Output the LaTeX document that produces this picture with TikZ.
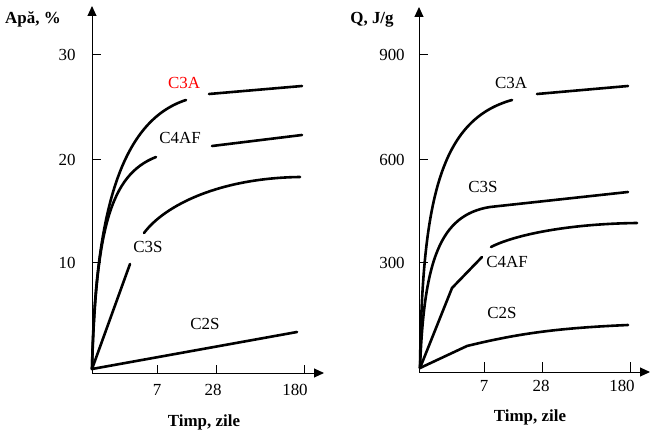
\documentclass[tikz,border=0pt]{standalone}
\usepackage{fontspec}
\setmainfont{Liberation Serif}
\usetikzlibrary{arrows.meta}

\begin{document}
\begin{tikzpicture}[x=1bp, y=-1bp,
  axis/.style={line width=1bp, -{Triangle[length=10bp,width=9bp]}},
  tk/.style={line width=1bp},
  curve/.style={line width=2.6bp, line cap=round},
  lbl/.style={font=\fontsize{17}{20}\selectfont, inner sep=0pt},
  ttl/.style={font=\fontsize{17}{20}\selectfont\bfseries, inner sep=0pt}]
  \useasboundingbox (0,0) rectangle (652,439);

  % left: water
  \coordinate (oa) at (92,373);
  \coordinate (ca) at (92,369);
  \draw[axis] (oa) -- (92,6);
  \draw[axis] (oa) -- (324,373);
  \foreach \y/\t in {55/30, 160/20, 263/10} {
    \draw[tk] (92,\y) -- (101,\y);
    \node[lbl] at (67,\y) {\t};
  }
  \foreach \x/\lx/\t in {157/157/7, 216/213/28, 304/295/180} {
    \draw[tk] (\x,373) -- (\x,365);
    \node[lbl] at (\lx,390) {\t};
  }
  \node[ttl] (apa) at (33,19) {Apă, \%};
  \node[ttl] (tima) at (204,422) {Timp, zile};

  \node[lbl, text=red] (c3aa) at (184,83) {C3A};
  \node[lbl] (c4afa) at (180,138) {C4AF};
  \node[lbl] (c3sa) at (148,247) {C3S};
  \node[lbl] (c2sa) at (205,324) {C2S};

  \draw[curve] (ca) .. controls (95,220) and (118,122) .. (186,100);
  \draw[curve] (209,94) -- (302,86);
  \draw[curve] (ca) .. controls (96,230) and (110,175) .. (156,157);
  \draw[curve] (212,146) -- (302,135);
  \draw[curve] (ca) -- (130,264);
  \draw[curve] (144,233) .. controls (165,205) and (220,178) .. (300,177);
  \draw[curve] (ca) -- (297,332);

  % right: heat
  \coordinate (ob) at (419,372);
  \coordinate (cb) at (420,368);
  \draw[axis] (ob) -- (419,7);
  \draw[axis] (ob) -- (650,372);
  \foreach \y/\t in {55/900, 160/600, 263/300} {
    \draw[tk] (419,\y) -- (428,\y);
    \node[lbl] at (392,\y) {\t};
  }
  \foreach \x/\lx/\t in {484/484/7, 542/541/28, 630/622/180} {
    \draw[tk] (\x,372) -- (\x,362);
    \node[lbl] at (\lx,386) {\t};
  }
  \node[ttl] (qjg) at (372,20) {Q, J/g};
  \node[ttl] (timb) at (530,417) {Timp, zile};

  \node[lbl] (c3ab) at (511,83) {C3A};
  \node[lbl] (c3sb) at (483,187) {C3S};
  \node[lbl] (c4afb) at (507,262) {C4AF};
  \node[lbl] (c2sb) at (502,313) {C2S};

  \draw[curve] (cb) .. controls (422,200) and (440,120) .. (512,100);
  \draw[curve] (537,94) -- (628,86);
  \draw[curve] (cb) .. controls (424,260) and (440,215) .. (490,207) -- (628,192);
  \draw[curve] (cb) -- (452,288) -- (482,257);
  \draw[curve] (491,247) .. controls (510,237) and (560,224) .. (637,223);
  \draw[curve] (cb) -- (467,346) .. controls (520,333) and (560,328) .. (628,325);
\end{tikzpicture}
\end{document}
